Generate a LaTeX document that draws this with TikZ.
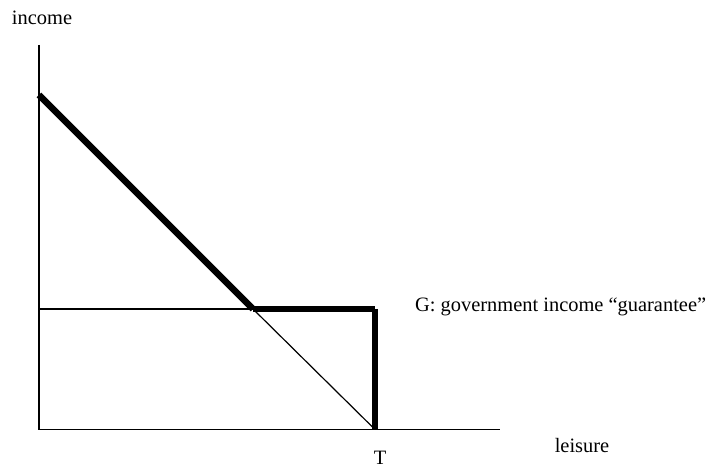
\documentclass[tikz,border=0pt]{standalone}
\usepackage{fontspec}
\setmainfont{Liberation Serif}
\begin{document}
\begin{tikzpicture}[x=1bp,y=-1bp,
  thinline/.style={line width=1.2bp,black},
  thickline/.style={line width=6.5bp,black},
  lbl/.style={inner sep=0pt,font=\fontsize{20.5}{24}\selectfont}]
\useasboundingbox[fill=white] (0,0) rectangle (719,468);
\coordinate (Ytop) at (39,45);
\coordinate (O) at (39,429.5);
\coordinate (Xend) at (500,429.5);
\coordinate (A) at (39,95);
\coordinate (K) at (253,309);
\coordinate (L) at (39,309);
\coordinate (GT) at (375,309);
\coordinate (T) at (375,429.5);
% axes
\draw[thinline] (Ytop) -- (O) -- (Xend);
% guarantee line and continuation of budget line
\draw[thinline] (L) -- (K);
\draw[thinline] (K) -- (T);
% effective budget constraint
\draw[thickline] (A) -- (K);
\draw[thickline] (K) -- (GT);
\draw[thickline] (GT) -- (T);
% labels
\node[lbl] (income) at (42,18) {income};
\node[lbl] (leisure) at (582,446) {leisure};
\node[lbl] (Tl) at (380,458) {T};
\node[lbl,anchor=west] (G) at (415,307) {G: government income “guarantee”};
\end{tikzpicture}
\end{document}
